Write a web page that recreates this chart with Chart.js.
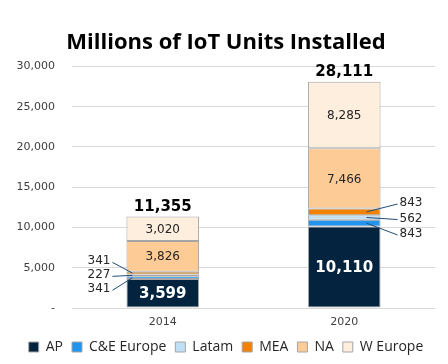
<!DOCTYPE html>
<html>
<head>
<meta charset="utf-8">
<script src="https://cdn.jsdelivr.net/npm/chart.js@4"></script>
<style>
  html, body { margin: 0; padding: 0; background: #fff; }
  #wrap { width: 448px; height: 364px; }
</style>
</head>
<body>
<div id="wrap"><canvas id="myChart" width="448" height="364"></canvas></div>
<script>
const years = ['2014', '2020'];
const ap = [3599, 10110];
const ceEurope = [341, 843];
const latam = [227, 562];
const mea = [341, 843];
const na = [3826, 7466];
const wEurope = [3020, 8285];
const totals = [11355, 28111];
const yTicks = [0, 5000, 10000, 15000, 20000, 25000, 30000];

const fmt = v => v.toLocaleString('en-US');

// labels inside the bars, callouts for the thin ones, totals on top
const barLabels = {
    id: 'barLabels',
    afterDatasetsDraw(chart) {
        const ctx = chart.ctx;
        ctx.save();
        const metas = chart.data.datasets.map((d, i) => chart.getDatasetMeta(i));

        years.forEach((y, j) => {
            // inside labels
            [0, 4, 5].forEach(di => {
                const bar = metas[di].data[j];
                const v = chart.data.datasets[di].data[j];
                const cy = (bar.y + bar.base) / 2;
                ctx.textAlign = 'center';
                ctx.textBaseline = 'middle';
                if (di === 0) {
                    ctx.font = 'bold 15px "DejaVu Sans"';
                    ctx.fillStyle = '#ffffff';
                } else {
                    ctx.font = '12px "DejaVu Sans"';
                    ctx.fillStyle = '#262626';
                }
                ctx.fillText(fmt(v), bar.x, cy + 1);
            });

            // callouts for the small segments (top to bottom: MEA, Latam, C&E)
            const small = [3, 2, 1];
            const top = metas[3].data[j].y;
            const bottom = metas[1].data[j].base;
            const mid = (top + bottom) / 2;
            const gap = j === 0 ? 14 : 15.5;
            const apBar = metas[0].data[j];
            const half = apBar.width / 2;
            const left = j === 0;
            small.forEach((di, k) => {
                const bar = metas[di].data[j];
                const v = chart.data.datasets[di].data[j];
                const ty = mid + (k - 1) * gap + (j === 0 ? 0 : 1);
                const segY = (bar.y + bar.base) / 2;
                let tx, lx0, lx1;
                if (left) {
                    tx = bar.x - half - 16;
                    lx0 = tx + 2;
                    lx1 = bar.x - half + 6;
                    ctx.textAlign = 'right';
                } else {
                    tx = bar.x + half + 19;
                    lx0 = tx - 2;
                    lx1 = bar.x + half - 14;
                    ctx.textAlign = 'left';
                }
                ctx.strokeStyle = '#1f4e79';
                ctx.lineWidth = 1;
                ctx.beginPath();
                ctx.moveTo(lx0, ty + 1);
                ctx.lineTo(lx1, segY);
                ctx.stroke();
                ctx.font = '12px "DejaVu Sans"';
                ctx.fillStyle = '#262626';
                ctx.textBaseline = 'middle';
                ctx.fillText(fmt(v), tx, ty);
            });

            // totals
            const topBar = metas[5].data[j];
            ctx.font = 'bold 15px "DejaVu Sans"';
            ctx.fillStyle = '#000000';
            ctx.textAlign = 'center';
            ctx.textBaseline = 'bottom';
            ctx.fillText(fmt(totals[j]), topBar.x, topBar.y - 2);
        });
        ctx.restore();
    }
};

const border = '#a6a6a6';

let myChart = new Chart('myChart', {
    type: 'bar',
    data: {
        labels: years,
        datasets: [
            { label: 'AP', data: ap, backgroundColor: '#03233f' },
            { label: 'C&E Europe', data: ceEurope, backgroundColor: '#2394ee' },
            { label: 'Latam', data: latam, backgroundColor: '#bfe0f4' },
            { label: 'MEA', data: mea, backgroundColor: '#f08200' },
            { label: 'NA', data: na, backgroundColor: '#fdcb96' },
            { label: 'W Europe', data: wEurope, backgroundColor: '#fdeedd' }
        ].map(d => Object.assign(d, {
            borderColor: border,
            borderWidth: 1,
            borderSkipped: false,
            barPercentage: 0.8,
            categoryPercentage: 0.5
        }))
    },
    options: {
        responsive: false,
        animation: false,
        layout: { padding: { left: 17, right: 13, top: 0, bottom: 0 } },
        scales: {
            x: {
                stacked: true,
                grid: { display: false },
                border: { display: false },
                afterFit: axis => { axis.height = 23; },
                ticks: {
                    color: '#404040',
                    font: { family: '"DejaVu Sans"', size: 11 },
                    padding: 0
                }
            },
            y: {
                stacked: true,
                min: 0,
                max: 30000,
                afterBuildTicks: axis => {
                    axis.ticks = yTicks.map(v => ({ value: v }));
                },
                afterFit: axis => { axis.width = 55; },
                grid: { color: '#d9d9d9', drawTicks: false },
                border: { display: false },
                ticks: {
                    color: '#404040',
                    font: { family: '"DejaVu Sans"', size: 11 },
                    padding: 17,
                    callback: v => v === 0 ? '-' : fmt(v)
                }
            }
        },
        plugins: {
            title: {
                display: true,
                text: 'Millions of IoT Units Installed',
                color: '#000000',
                font: { family: '"Open Sans"', size: 22, weight: 'bold', lineHeight: 1.2 },
                padding: { top: 30, bottom: 10 }
            },
            legend: {
                position: 'bottom',
                labels: {
                    color: '#262626',
                    font: { family: '"Open Sans"', size: 14 },
                    boxWidth: 10,
                    boxHeight: 10,
                    padding: 9
                }
            },
            tooltip: { enabled: false }
        }
    },
    plugins: [barLabels]
});
</script>
</body>
</html>
